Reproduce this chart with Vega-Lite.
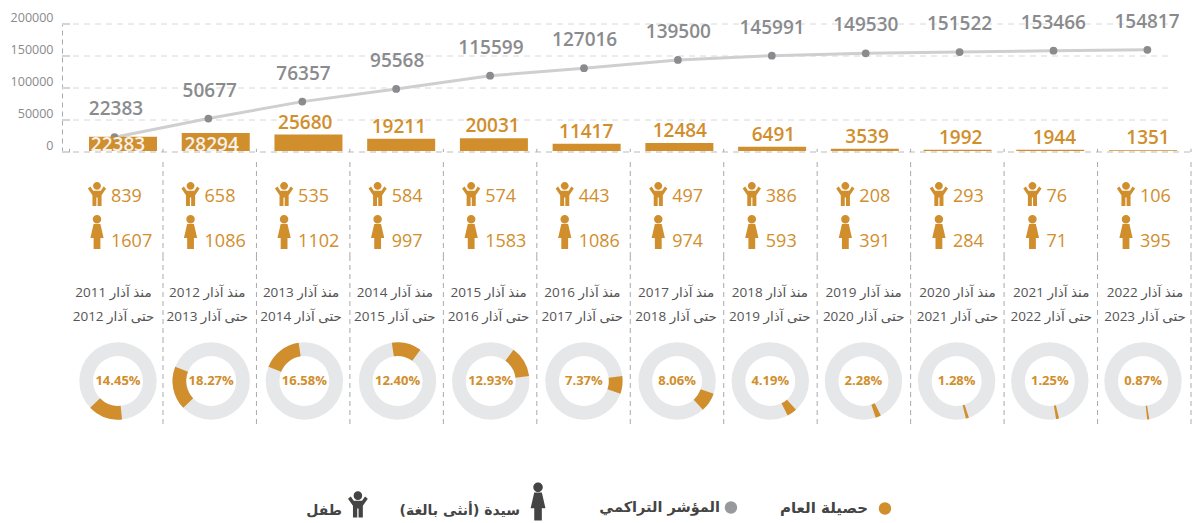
{
"$schema":"https://vega.github.io/schema/vega-lite/v6.json",
"background":"white","padding":0,"bounds":"flush","spacing":0,
"config":{"view":{"stroke":null},"concat":{"spacing":0}},
"data":{"values":[
{"year":2011,"annual":22383,"cum":22383,"child":839,"woman":1607,"from":"منذ آذار 2011","to":"حتى آذار 2012","share":"14.45%","start":0,"end":14.45},
{"year":2012,"annual":28294,"cum":50677,"child":658,"woman":1086,"from":"منذ آذار 2012","to":"حتى آذار 2013","share":"18.27%","start":14.45,"end":32.72},
{"year":2013,"annual":25680,"cum":76357,"child":535,"woman":1102,"from":"منذ آذار 2013","to":"حتى آذار 2014","share":"16.58%","start":32.72,"end":49.3},
{"year":2014,"annual":19211,"cum":95568,"child":584,"woman":997,"from":"منذ آذار 2014","to":"حتى آذار 2015","share":"12.40%","start":49.3,"end":61.7},
{"year":2015,"annual":20031,"cum":115599,"child":574,"woman":1583,"from":"منذ آذار 2015","to":"حتى آذار 2016","share":"12.93%","start":61.7,"end":74.63},
{"year":2016,"annual":11417,"cum":127016,"child":443,"woman":1086,"from":"منذ آذار 2016","to":"حتى آذار 2017","share":"7.37%","start":74.63,"end":82},
{"year":2017,"annual":12484,"cum":139500,"child":497,"woman":974,"from":"منذ آذار 2017","to":"حتى آذار 2018","share":"8.06%","start":82,"end":90.06},
{"year":2018,"annual":6491,"cum":145991,"child":386,"woman":593,"from":"منذ آذار 2018","to":"حتى آذار 2019","share":"4.19%","start":90.06,"end":94.25},
{"year":2019,"annual":3539,"cum":149530,"child":208,"woman":391,"from":"منذ آذار 2019","to":"حتى آذار 2020","share":"2.28%","start":94.25,"end":96.53},
{"year":2020,"annual":1992,"cum":151522,"child":293,"woman":284,"from":"منذ آذار 2020","to":"حتى آذار 2021","share":"1.28%","start":96.53,"end":97.81},
{"year":2021,"annual":1944,"cum":153466,"child":76,"woman":71,"from":"منذ آذار 2021","to":"حتى آذار 2022","share":"1.25%","start":97.81,"end":99.06},
{"year":2022,"annual":1351,"cum":154817,"child":106,"woman":395,"from":"منذ آذار 2022","to":"حتى آذار 2023","share":"0.87%","start":99.06,"end":99.93}
]},
"vconcat":[
{"width":1193,"height":162,
 "resolve":{"scale":{"x":"independent","y":"independent"}},
 "layer":[
 {"data":{"values":[{"v":50000},{"v":100000},{"v":150000},{"v":200000}]},
  "mark":{"type":"rule","stroke":"#d8d8d8","strokeDash":[6,5],"strokeWidth":1},
  "encoding":{"y":{"field":"v","type":"quantitative","scale":{"domain":[0,200000],"range":[152,24]},
    "axis":{"offset":-62,"title":null,"values":[0,50000,100000,150000,200000],"format":"d","ticks":false,"grid":false,"domain":true,"domainColor":"#aaaaaa","domainDash":[5,4],"labelColor":"#8a8a8a","labelFont":"Open Sans","labelFontSize":12.5,"labelPadding":9,"labelOffset":-6.5}},
   "x":{"datum":0,"type":"quantitative","scale":{"domain":[0,1],"range":[62,1170]},"axis":null},"x2":{"datum":1}}},
 {"data":{"values":[{"v":0}]},
  "mark":{"type":"rule","stroke":"#bbbbbb","strokeDash":[6,5],"strokeWidth":1},
  "encoding":{"y":{"field":"v","type":"quantitative","scale":{"domain":[0,200000],"range":[152,24]},"axis":null},
   "x":{"datum":0,"type":"quantitative","scale":{"domain":[0,1],"range":[62,1190]},"axis":null},"x2":{"datum":1}}},
 {"data":{"values":[{"v":0},{"v":50000},{"v":100000},{"v":150000},{"v":200000}]},
  "mark":{"type":"rule","stroke":"#d4d4d4","strokeWidth":2},
  "encoding":{"y":{"field":"v","type":"quantitative","scale":{"domain":[0,200000],"range":[152,24]},"axis":null},
   "x":{"datum":0,"type":"quantitative","scale":{"domain":[0,1],"range":[62,70]},"axis":null},"x2":{"datum":1}}},
 {"data":{"values":[{"d":2010},{"d":2011},{"d":2012},{"d":2013},{"d":2014},{"d":2015},{"d":2016},{"d":2017},{"d":2018},{"d":2019},{"d":2020},{"d":2021},{"d":2022}]},
  "mark":{"type":"rule","stroke":"#aaaaaa","strokeWidth":1},
  "encoding":{"x":{"field":"d","type":"quantitative","scale":{"domain":[2010,2022],"range":[69.5,1191]},"axis":null},
   "y":{"datum":0,"type":"quantitative","scale":{"domain":[0,200000],"range":[152,24]},"axis":null},"y2":{"datum":5000}}},
 {"mark":{"type":"line","stroke":"#cfcfcf","strokeWidth":3},
  "encoding":{"x":{"field":"year","type":"quantitative","scale":{"domain":[2011,2022],"range":[114.5,1147.4]},"axis":null},
   "y":{"field":"cum","type":"quantitative","scale":{"domain":[0,194000],"range":[152,24]},"axis":null}}},
 {"mark":{"type":"point","filled":true,"fill":"#8a8b8e","opacity":1,"size":60},
  "encoding":{"x":{"field":"year","type":"quantitative","scale":{"domain":[2011,2022],"range":[114.5,1147.4]},"axis":null},
   "y":{"field":"cum","type":"quantitative","scale":{"domain":[0,194000],"range":[152,24]},"axis":null}}},
 {"mark":{"type":"bar","fill":"#d18e2c","width":68,"yOffset":-1,"y2Offset":-1},
  "encoding":{"x":{"field":"year","type":"quantitative","scale":{"domain":[2011,2022],"range":[118,1148]},"axis":null},
   "y":{"field":"annual","type":"quantitative","scale":{"domain":[0,200000],"range":[152,24]},"axis":null}}},
 {"mark":{"type":"text","fill":"#8a8b8e","font":"Open Sans","fontWeight":600,"fontSize":19,"baseline":"middle","dy":-28},
  "encoding":{"x":{"field":"year","type":"quantitative","scale":{"domain":[2011,2022],"range":[116,1147]},"axis":null},
   "y":{"field":"cum","type":"quantitative","scale":{"domain":[0,194000],"range":[152,24]},"axis":null},
   "text":{"field":"cum","type":"quantitative","format":"d"}}},
 {"transform":[{"filter":"datum.year>2012"}],
  "mark":{"type":"text","fill":"#d18e2c","font":"Open Sans","fontWeight":600,"fontSize":19,"baseline":"middle","dy":-13},
  "encoding":{"x":{"field":"year","type":"quantitative","scale":{"domain":[2011,2022],"range":[118,1148]},"axis":null},
   "y":{"field":"annual","type":"quantitative","scale":{"domain":[0,200000],"range":[152,24]},"axis":null},
   "text":{"field":"annual","type":"quantitative","format":"d"}}},
 {"transform":[{"filter":"datum.year<=2012"}],
  "mark":{"type":"text","fill":"#f5f2ec","font":"Open Sans","fontWeight":600,"fontSize":19,"baseline":"middle","dy":-7},
  "encoding":{"x":{"field":"year","type":"quantitative","scale":{"domain":[2011,2022],"range":[118,1148]},"axis":null},
   "y":{"datum":0,"type":"quantitative","scale":{"domain":[0,200000],"range":[152,24]},"axis":null},
   "text":{"field":"annual","type":"quantitative","format":"d"}}}
 ]},
{"width":1193,"height":94,
 "resolve":{"scale":{"x":"independent"}},
 "layer":[
 {"mark":{"type":"rule","stroke":"#aaaaaa","strokeDash":[5,4],"strokeWidth":1},
  "encoding":{"x":{"field":"year","type":"quantitative","scale":{"domain":[2011,2022],"range":[163,1191]},"axis":null}}},
 {"mark":{"type":"point","filled":true,"fill":"#d18e2c","opacity":1,"size":576,"yOffset":-3,"shape":"M-0.32,-0.28 L-0.55,-0.62 L-0.76,-0.45 L-0.38,0.1 L-0.38,1 L-0.05,1 L-0.05,0.3 L0.05,0.3 L0.05,1 L0.38,1 L0.38,0.1 L0.76,-0.45 L0.55,-0.62 L0.32,-0.28 Z M-0.33,-0.68 A0.33,0.33 0 1 0 0.33,-0.68 A0.33,0.33 0 1 0 -0.33,-0.68 Z"},
  "encoding":{"x":{"field":"year","type":"quantitative","scale":{"domain":[2011,2022],"range":[97,1126]},"axis":null},
   "y":{"datum":"child","type":"nominal","scale":{"type":"point","padding":0,"domain":["child","woman"],"range":[35,80]},"axis":null}}},
 {"mark":{"type":"point","filled":true,"fill":"#d18e2c","opacity":1,"size":1156,"yOffset":-10,"shape":"M-0.2,-0.47 L0.2,-0.47 L0.39,0.35 L0.2,0.35 L0.2,1 L-0.2,1 L-0.2,0.35 L-0.39,0.35 Z M-0.25,-0.75 A0.25,0.25 0 1 0 0.25,-0.75 A0.25,0.25 0 1 0 -0.25,-0.75 Z"},
  "encoding":{"x":{"field":"year","type":"quantitative","scale":{"domain":[2011,2022],"range":[97,1126]},"axis":null},
   "y":{"datum":"woman","type":"nominal","scale":{"type":"point","padding":0,"domain":["child","woman"],"range":[35,80]},"axis":null}}},
 {"mark":{"type":"text","fill":"#d18e2c","font":"Open Sans","fontSize":18,"align":"left","baseline":"middle","dx":14},
  "encoding":{"x":{"field":"year","type":"quantitative","scale":{"domain":[2011,2022],"range":[97,1126]},"axis":null},
   "y":{"datum":"child","type":"nominal","scale":{"type":"point","padding":0,"domain":["child","woman"],"range":[35,80]},"axis":null},
   "text":{"field":"child","type":"quantitative","format":"d"}}},
 {"mark":{"type":"text","fill":"#d18e2c","font":"Open Sans","fontSize":18,"align":"left","baseline":"middle","dx":14},
  "encoding":{"x":{"field":"year","type":"quantitative","scale":{"domain":[2011,2022],"range":[97,1126]},"axis":null},
   "y":{"datum":"woman","type":"nominal","scale":{"type":"point","padding":0,"domain":["child","woman"],"range":[35,80]},"axis":null},
   "text":{"field":"woman","type":"quantitative","format":"d"}}}
 ]},
{"width":1193,"height":82,
 "resolve":{"scale":{"x":"independent"}},
 "layer":[
 {"mark":{"type":"rule","stroke":"#aaaaaa","strokeDash":[5,4],"strokeWidth":1},
  "encoding":{"x":{"field":"year","type":"quantitative","scale":{"domain":[2011,2022],"range":[163,1191]},"axis":null}}},
 {"mark":{"type":"text","fill":"#555555","font":"Open Sans, DejaVu Sans","fontSize":13.5,"baseline":"middle"},
  "encoding":{"x":{"field":"year","type":"quantitative","scale":{"domain":[2011,2022],"range":[113.5,1145]},"axis":null},
   "y":{"datum":"from","type":"nominal","scale":{"type":"point","padding":0,"domain":["from","to"],"range":[37,61]},"axis":null},
   "text":{"field":"from","type":"nominal"}}},
 {"mark":{"type":"text","fill":"#555555","font":"Open Sans, DejaVu Sans","fontSize":13.5,"baseline":"middle"},
  "encoding":{"x":{"field":"year","type":"quantitative","scale":{"domain":[2011,2022],"range":[113.5,1145]},"axis":null},
   "y":{"datum":"to","type":"nominal","scale":{"type":"point","padding":0,"domain":["from","to"],"range":[37,61]},"axis":null},
   "text":{"field":"to","type":"nominal"}}}
 ]},
{"width":1193,"height":86,
 "resolve":{"scale":{"x":"independent"}},
 "layer":[
 {"mark":{"type":"rule","stroke":"#aaaaaa","strokeDash":[5,4],"strokeWidth":1},
  "encoding":{"x":{"field":"year","type":"quantitative","scale":{"domain":[2011,2022],"range":[163,1191]},"axis":null}}},
 {"mark":{"type":"arc","fill":"#e6e7e8","radius":38.7,"radius2":25,"theta":0,"theta2":6.2832},
  "encoding":{"x":{"field":"year","type":"quantitative","stack":false,"scale":{"domain":[2011,2022],"range":[118,1143]},"axis":null}}},
 {"mark":{"type":"arc","fill":"#d18e2c","radius":38.7,"radius2":25},
  "encoding":{"x":{"field":"year","type":"quantitative","stack":false,"scale":{"domain":[2011,2022],"range":[118,1143]},"axis":null},
   "theta":{"field":"start","type":"quantitative","stack":false,"scale":{"domain":[0,100],"range":[3.037,9.32]}},
   "theta2":{"field":"end"}}},
 {"mark":{"type":"text","fill":"#d18e2c","font":"Open Sans","fontWeight":700,"fontSize":13,"baseline":"middle"},
  "encoding":{"x":{"field":"year","type":"quantitative","scale":{"domain":[2011,2022],"range":[118,1143]},"axis":null},
   "text":{"field":"share","type":"nominal"}}}
 ]},
{"width":1193,"height":99,
 "data":{"values":[{"k":1}]},
 "layer":[
 {"mark":{"type":"point","filled":true,"fill":"#d18e2c","opacity":1,"size":154,"yOffset":35},
  "encoding":{"x":{"datum":74.18,"type":"quantitative","scale":{"domain":[0,100]},"axis":null}}},
 {"mark":{"type":"point","filled":true,"fill":"#98999c","opacity":1,"size":154,"yOffset":34},
  "encoding":{"x":{"datum":61.27,"type":"quantitative","scale":{"domain":[0,100]},"axis":null}}},
 {"mark":{"type":"point","filled":true,"fill":"#444444","opacity":1,"size":1444,"yOffset":28,"shape":"M-0.2,-0.47 L0.2,-0.47 L0.39,0.35 L0.2,0.35 L0.2,1 L-0.2,1 L-0.2,0.35 L-0.39,0.35 Z M-0.25,-0.75 A0.25,0.25 0 1 0 0.25,-0.75 A0.25,0.25 0 1 0 -0.25,-0.75 Z"},
  "encoding":{"x":{"datum":45.1,"type":"quantitative","scale":{"domain":[0,100]},"axis":null}}},
 {"mark":{"type":"point","filled":true,"fill":"#444444","opacity":1,"size":676,"yOffset":31,"shape":"M-0.32,-0.28 L-0.55,-0.62 L-0.76,-0.45 L-0.38,0.1 L-0.38,1 L-0.05,1 L-0.05,0.3 L0.05,0.3 L0.05,1 L0.38,1 L0.38,0.1 L0.76,-0.45 L0.55,-0.62 L0.32,-0.28 Z M-0.33,-0.68 A0.33,0.33 0 1 0 0.33,-0.68 A0.33,0.33 0 1 0 -0.33,-0.68 Z"},
  "encoding":{"x":{"datum":30,"type":"quantitative","scale":{"domain":[0,100]},"axis":null}}},
 {"mark":{"type":"text","fill":"#444444","font":"DejaVu Sans","fontWeight":700,"fontSize":15,"align":"right","baseline":"middle","yOffset":34},
  "encoding":{"x":{"datum":72.76,"type":"quantitative","scale":{"domain":[0,100]},"axis":null},"text":{"value":"حصيلة العام"}}},
 {"mark":{"type":"text","fill":"#444444","font":"DejaVu Sans","fontWeight":700,"fontSize":14.5,"align":"right","baseline":"middle","yOffset":34},
  "encoding":{"x":{"datum":60.35,"type":"quantitative","scale":{"domain":[0,100]},"axis":null},"text":{"value":"المؤشر التراكمي"}}},
 {"mark":{"type":"text","fill":"#444444","font":"DejaVu Sans","fontWeight":700,"fontSize":14,"align":"right","baseline":"middle","yOffset":37},
  "encoding":{"x":{"datum":43.59,"type":"quantitative","scale":{"domain":[0,100]},"axis":null},"text":{"value":"سيدة (أنثى بالغة)"}}},
 {"mark":{"type":"text","fill":"#444444","font":"DejaVu Sans","fontWeight":700,"fontSize":14,"align":"right","baseline":"middle","yOffset":37},
  "encoding":{"x":{"datum":28.67,"type":"quantitative","scale":{"domain":[0,100]},"axis":null},"text":{"value":"طفل"}}}
 ]}
]
}
